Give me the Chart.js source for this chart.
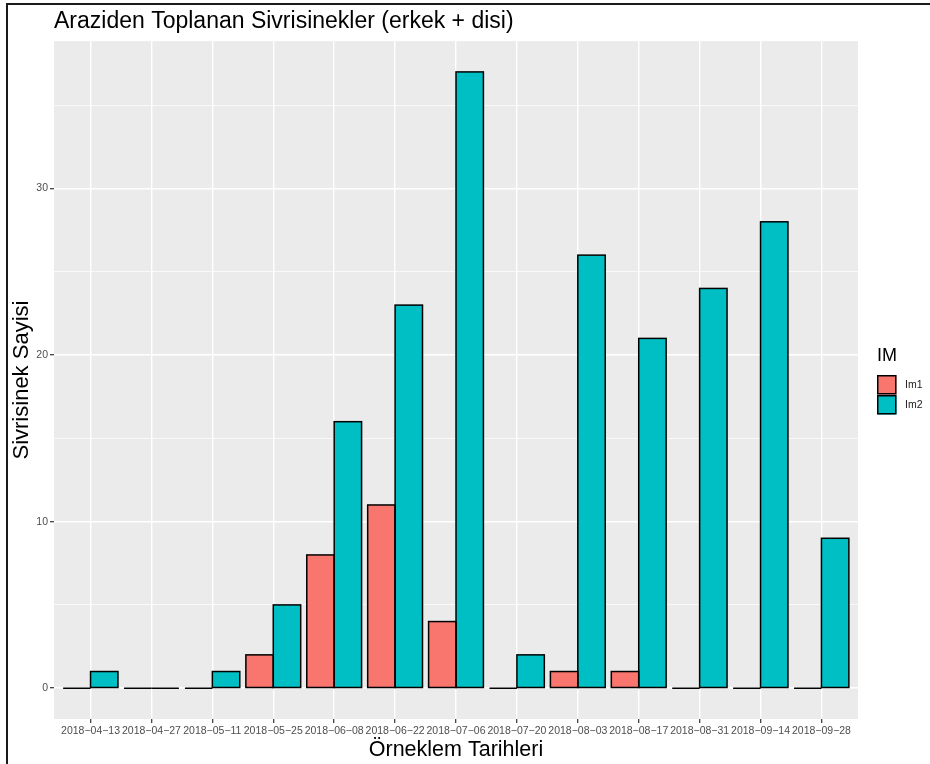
<!DOCTYPE html>
<html><head><meta charset="utf-8">
<script src="https://cdn.jsdelivr.net/npm/chart.js@4.4.1/dist/chart.umd.min.js"></script>
<style>
html,body{margin:0;padding:0;background:#fff;}
#wrap{position:relative;width:930px;height:764px;overflow:hidden;}
#frame{position:absolute;left:6px;top:3px;width:940px;height:800px;border-left:2px solid #1a1a1a;border-top:2px solid #1a1a1a;pointer-events:none;}
</style></head><body>
<div id="wrap"><canvas id="c" width="930" height="764"></canvas><div id="frame"></div></div>
<script>
const chartTitle = 'Araziden Toplanan Sivrisinekler (erkek + disi)';
const xTitle = 'Örneklem Tarihleri';
const yTitle = 'Sivrisinek Sayisi';
const legendTitle = 'IM';
const categories = ['2018-04-13','2018-04-27','2018-05-11','2018-05-25','2018-06-08','2018-06-22','2018-07-06','2018-07-20','2018-08-03','2018-08-17','2018-08-31','2018-09-14','2018-09-28'];
const seriesNames = ['Im1','Im2'];
const im1 = [0,0,0,2,8,11,4,0,1,1,0,0,0];
const im2 = [1,0,1,5,16,23,37,2,26,21,24,28,9];
const seriesColors = ['#F8766D','#00BFC4'];
const yMajorTicks = [0,10,20,30];
const yMinorTicks = [5,15,25,35];

const yMaxData = Math.max(...im1, ...im2);
const yExp = yMaxData * 0.05;

const barStroke = {
  id: 'barStroke',
  afterDatasetsDraw(chart) {
    const ctx = chart.ctx;
    ctx.save();
    ctx.strokeStyle = '#000';
    ctx.lineWidth = 1.5;
    chart.data.datasets.forEach((ds, di) => {
      const meta = chart.getDatasetMeta(di);
      meta.data.forEach(bar => {
        const p = bar.getProps(['x','y','base','width'], true);
        ctx.strokeRect(p.x - p.width/2, Math.min(p.y, p.base), p.width, Math.abs(p.base - p.y));
      });
    });
    ctx.restore();
  }
};

const panelBg = {
  id: 'panelBg',
  beforeDraw(chart) {
    const {ctx, chartArea: a} = chart;
    ctx.save();
    ctx.fillStyle = '#EBEBEB';
    ctx.fillRect(a.left, a.top, a.right - a.left, a.bottom - a.top);
    ctx.restore();
  }
};

const ggLegend = {
  id: 'ggLegend',
  afterDraw(chart) {
    const ctx = chart.ctx;
    const a = chart.chartArea;
    const x0 = a.right + 19;
    ctx.save();
    ctx.fillStyle = '#000';
    ctx.font = '18px "Liberation Sans", Arial, sans-serif';
    ctx.textBaseline = 'alphabetic';
    ctx.fillText(legendTitle, x0, 361);
    const keyTop = 375, keySize = 19.5;
    chart.data.datasets.forEach((ds, i) => {
      const y = keyTop + i * (keySize + 0.5);
      ctx.fillStyle = ds.backgroundColor;
      ctx.fillRect(x0, y, keySize, keySize);
      ctx.strokeStyle = '#000';
      ctx.lineWidth = 1.5;
      ctx.strokeRect(x0 + 0.75, y + 0.75, keySize - 1.5, keySize - 1.5);
      ctx.fillStyle = '#1a1a1a';
      ctx.font = '10.5px "Liberation Sans", Arial, sans-serif';
      ctx.textBaseline = 'middle';
      ctx.fillText(ds.label, x0 + 28, y + keySize/2);
    });
    ctx.restore();
  }
};

new Chart(document.getElementById('c'), {
  type: 'bar',
  data: {
    datasets: seriesNames.map((name, si) => ({
      label: name,
      data: (si === 0 ? im1 : im2).map((v, i) => ({x: i, y: v})),
      backgroundColor: seriesColors[si],
      borderWidth: 0,
      categoryPercentage: 0.9,
      barPercentage: 1.0,
      grouped: true
    }))
  },
  options: {
    responsive: false,
    animation: false,
    devicePixelRatio: 1,
    layout: {padding: {top: 0, left: 0, right: 72, bottom: 0}},
    plugins: {
      legend: {display: false},
      tooltip: {enabled: false},
      title: {
        display: true,
        text: chartTitle,
        align: 'start',
        fullSize: false,
        color: '#000',
        font: {family: '"Liberation Sans", Arial, sans-serif', size: 23, weight: 'normal'},
        padding: {top: 7.5, bottom: 6}
      }
    },
    scales: {
      x: {
        type: 'linear',
        min: -0.6,
        max: categories.length - 1 + 0.6,
        offset: false,
        afterBuildTicks(scale) { scale.ticks = categories.map((c, i) => ({value: i})); },
        afterFit(scale) { scale.height = 45; },
        ticks: {
          autoSkip: false, maxRotation: 0, minRotation: 0, padding: 2,
          color: '#4D4D4D',
          font: {family: '"Liberation Sans", Arial, sans-serif', size: 10.5},
          callback: (v) => (categories[v] || '').replace(/-/g, '\u2212')
        },
        grid: {offset: false, color: '#FFFFFF', lineWidth: 1.4, tickLength: 4, tickColor: '#333333', tickWidth: 1.2},
        border: {display: false},
        title: {
          display: true, text: xTitle, color: '#000',
          font: {family: '"Liberation Sans", Arial, sans-serif', size: 21.5},
          padding: {top: 0, bottom: 1.5}
        }
      },
      y: {
        type: 'linear',
        min: -yExp,
        max: yMaxData + yExp,
        afterBuildTicks(scale) {
          scale.ticks = [...yMajorTicks, ...yMinorTicks].sort((a,b)=>a-b).map(v => ({value: v}));
        },
        afterFit(scale) { scale.width = 54; },
        ticks: {
          padding: 2, color: '#4D4D4D',
          font: {family: '"Liberation Sans", Arial, sans-serif', size: 10.5},
          callback: (v) => yMajorTicks.includes(v) ? String(v) : ''
        },
        grid: {
          color: '#FFFFFF',
          lineWidth: (ctx) => (ctx.tick && yMajorTicks.includes(ctx.tick.value)) ? 1.4 : 0.7,
          tickLength: 4,
          tickColor: (ctx) => (ctx.tick && yMajorTicks.includes(ctx.tick.value)) ? '#333333' : 'rgba(0,0,0,0)',
          tickWidth: 1.2
        },
        border: {display: false},
        title: {
          display: true, text: yTitle, color: '#000',
          font: {family: '"Liberation Sans", Arial, sans-serif', size: 22},
          padding: {top: 9, bottom: 0}
        }
      }
    }
  },
  plugins: [panelBg, barStroke, ggLegend]
});
</script>
</body></html>
